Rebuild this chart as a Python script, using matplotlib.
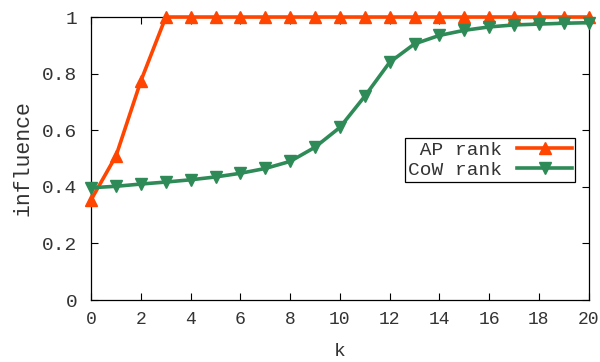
import matplotlib
matplotlib.use("Agg")
import matplotlib.pyplot as plt

k = list(range(21))
ap_rank = [0.355, 0.51, 0.775] + [1.0] * 18
cow_rank = [0.397, 0.402, 0.41, 0.417, 0.425, 0.435, 0.448, 0.465, 0.49, 0.54,
            0.61, 0.72, 0.84, 0.905, 0.935, 0.953, 0.965, 0.972, 0.975, 0.978, 0.98]

plt.rcParams['font.family'] = ['Liberation Mono', 'DejaVu Sans Mono']
plt.rcParams['font.size'] = 14
txt = '#333333'

fig = plt.figure(figsize=(6, 3.62), dpi=100)
ax = fig.add_axes([0.152, 0.171, 0.829, 0.782])

ax.plot(k, ap_rank, '-^', color='#ff4500', lw=2.6, ms=9, label=' AP rank', clip_on=False, zorder=3)
ax.plot(k, cow_rank, '-v', color='#2e8b57', lw=2.6, ms=9, label='CoW rank', clip_on=False, zorder=3)

ax.set_xlim(0, 20)
ax.set_ylim(0, 1)
ax.set_xticks(range(0, 21, 2))
ax.set_yticks([0, 0.2, 0.4, 0.6, 0.8, 1])
ax.set_yticklabels(['0', '0.2', '0.4', '0.6', '0.8', '1'])
ax.tick_params(direction='in', length=5, width=0.8, top=True, right=True,
               colors='black', labelcolor=txt)
ax.tick_params(axis='x', pad=8, labelsize=13)
ax.tick_params(axis='y', pad=10)
for s in ax.spines.values():
    s.set_linewidth(0.9)

ax.set_xlabel('k', color=txt, labelpad=11)
ax.set_ylabel('influence', color=txt, fontsize=15.5, labelpad=6)

leg = ax.legend(loc='upper right', bbox_to_anchor=(0.972, 0.572), markerfirst=False,
                fancybox=False, framealpha=1, edgecolor='black', handlelength=2.8,
                borderpad=0.15, labelspacing=0.15, handletextpad=0.8, borderaxespad=0)
leg.get_frame().set_linewidth(0.9)
for t in leg.get_texts():
    t.set_color(txt)

fig.savefig('out.png', dpi=100)
